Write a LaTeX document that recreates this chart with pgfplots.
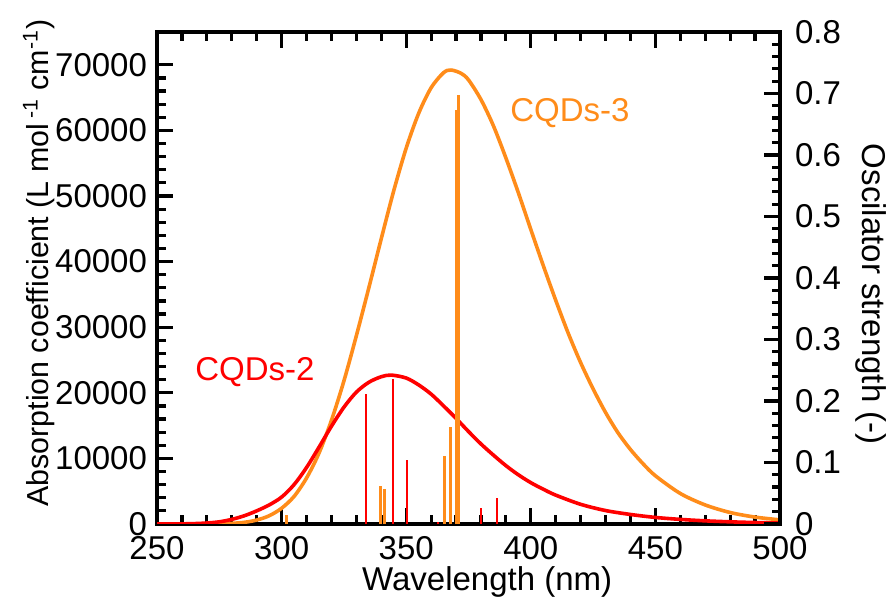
\documentclass[border=0pt]{standalone}
\usepackage{fontspec}
\setmainfont{Liberation Sans}
\usepackage{pgfplots}
\pgfplotsset{compat=1.18}
\definecolor{cqdred}{RGB}{255,0,0}
\definecolor{cqdorange}{RGB}{255,140,26}
\begin{document}
\begin{tikzpicture}[x=1pt,y=1pt]
\useasboundingbox (0,0) rectangle (446.5,298.5);
\pgfplotsset{
  every axis/.append style={
    scale only axis, width=311.5pt, height=246pt,
    at={(78.5pt,36.5pt)}, anchor=south west,
    xmin=250, xmax=500,
    font=\fontsize{16.5}{19}\selectfont,
    /pgf/number format/assume math mode=true,
    /pgf/number format/set thousands separator={},
    scaled ticks=false,
    axis line style={line width=1.8pt, black},
    tick style={line width=1.6pt, black},
    major tick length=8pt, minor tick length=4.25pt,
    tick align=inside,
  }
}
\begin{axis}[
  ymin=0, ymax=75000,
  xtick={250,300,350,400,450,500}, minor x tick num=4,
  ytick={0,10000,20000,30000,40000,50000,60000,70000}, minor y tick num=4,
  xtick pos=both, ytick pos=left,
  xticklabel style={yshift=-2.5pt},
  yticklabel style={xshift=-1.5pt},
  xlabel={Wavelength (nm)},
  ylabel={Absorption coefficient (L mol\,\textsuperscript{-1} cm\textsuperscript{-1})},
  xlabel style={at={(axis description cs:0.53,-0.117)}, anchor=center},
  ylabel style={at={(axis description cs:-0.19,0.53)}, anchor=center, font=\fontsize{15.2}{18}\selectfont},
]
\addplot[cqdorange, line width=1.8pt, smooth] coordinates {
(250,0) (260,1) (270,10) (275,35) (280,100) (285,250) (290,600) (295,1250) (300,2400) (305,4200) (310,7000) (315,10800) (320,15800) (325,21800) (330,28700) (335,36000) (340,43500) (345,50800) (350,57300) (355,62600) (360,66500) (365,68800) (368,69200) (372,68700) (375,67700) (380,64700) (385,60700) (390,55800) (395,50500) (400,44900) (405,39400) (410,34100) (415,29100) (420,24600) (425,20600) (430,17000) (435,13900) (440,11350) (445,9200) (450,7350) (460,4650) (470,2900) (480,1750) (490,1050) (500,630)
};
\addplot[cqdred, line width=1.8pt, smooth] coordinates {
(250,0) (255,5) (260,20) (265,60) (270,150) (275,330) (280,700) (285,1250) (290,2000) (295,2900) (300,4100) (305,6000) (310,8600) (315,11700) (320,14900) (325,17800) (330,20100) (335,21600) (340,22450) (344,22700) (350,22250) (355,21200) (360,19800) (365,18000) (370,16100) (375,14100) (380,12200) (385,10500) (390,8900) (395,7500) (400,6300) (405,5300) (410,4400) (420,3000) (430,2050) (440,1450) (450,1000) (460,700) (470,480) (480,330) (490,220) (500,150)
};
\node[cqdred] at (axis cs:289.3,23170) {CQDs-2};
\node[cqdorange] at (axis cs:415.7,62650) {CQDs-3};
\end{axis}
\begin{axis}[
  ymin=0, ymax=0.8,
  axis x line=none, axis y line*=right,
  ytick={0,0.1,0.2,0.3,0.4,0.5,0.6,0.7,0.8},
  yticklabels={0,0.1,0.2,0.3,0.4,0.5,0.6,0.7,0.8},
  minor y tick num=4, ytick pos=right,
  yticklabel style={xshift=4pt},
  ylabel={Oscilator strength (-)},
  ylabel style={at={(axis description cs:1.146,0.467)}, anchor=center, rotate=180},
]
\addplot[ycomb, cqdorange, line width=1.5pt, no markers] coordinates {
(302.0,0.015) (339.6,0.062) (341.2,0.057) (365.4,0.111) (367.6,0.158) (370.0,0.673) (370.9,0.698)
};
\addplot[ycomb, cqdred, line width=1pt, no markers] coordinates {
(333.7,0.211) (344.8,0.235) (350.2,0.104) (362.9,0.003) (380.0,0.026) (386.3,0.042)
};
\end{axis}
\end{tikzpicture}
\end{document}
